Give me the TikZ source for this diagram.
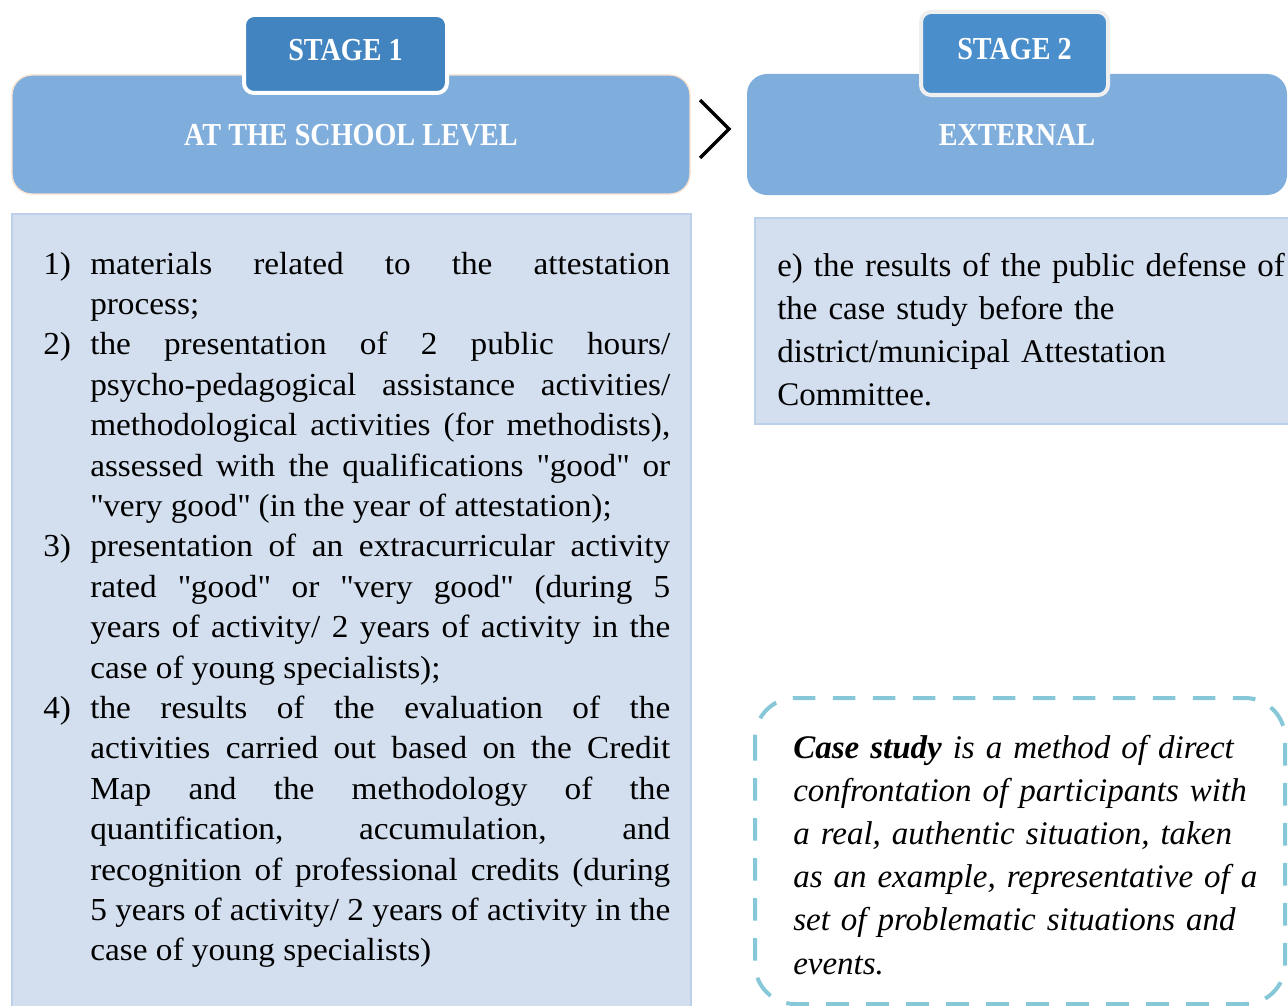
\documentclass[tikz,border=0pt]{standalone}
\usepackage{fontspec}
\usepackage{xcolor}
\usepackage{tikz}
\usetikzlibrary{positioning}
\setmainfont{Liberation Serif}
\newfontfamily\hdrfont[FakeStretch=0.88]{Liberation Serif}
\newfontfamily\listfont[FakeStretch=1.04]{Liberation Serif}
\definecolor{hdrblue}{HTML}{7FAEDD}
\definecolor{tabblue}{HTML}{4184C0}
\definecolor{tabbluelt}{HTML}{4A8ECB}
\definecolor{tabedge}{HTML}{EFEFEF}
\definecolor{peach}{HTML}{FBE2CF}
\definecolor{listfill}{HTML}{D3DFEF}
\definecolor{listedge}{HTML}{BCD0EA}
\definecolor{casecyan}{HTML}{86C8D8}
\tikzset{
  hdrbox/.style={fill=hdrblue, rounded corners=15pt, text=white, inner sep=0pt,
    font=\hdrfont\bfseries\fontsize{24}{28}\selectfont, text depth=0pt},
  tabbox/.style={rounded corners=7.5pt, line width=3pt, text=white, inner sep=0pt,
    font=\hdrfont\bfseries\fontsize{24}{28}\selectfont, text depth=6.75pt},
  listbox/.style={fill=listfill, draw=listedge, line width=1.5pt},
  casebox/.style={draw=casecyan, line width=3pt, rounded corners=30pt,
    dash pattern=on 17pt off 13pt},
  chevron/.style={line width=2.4pt, line join=miter}
}
% numbered item with hanging text
\newcommand{\itemno}[1]{\hangindent=35.25pt\hangafter=1\noindent\makebox[35.25pt][l]{#1}}
\newcommand{\qt}[1]{\textquotedbl#1\textquotedbl}
\begin{document}
\begin{tikzpicture}[x=0.75pt, y=-0.75pt]
  \useasboundingbox (0,0) rectangle (1288,1006);
  % stage headers
  \node[hdrbox, draw=peach, line width=1pt, minimum width=508.5pt, minimum height=89.25pt]
    (school) at (351,134.5) {AT THE SCHOOL LEVEL};
  \node[hdrbox, minimum width=405pt, minimum height=90.75pt]
    (external) at (1017,134.5) {EXTERNAL};
  \node[tabbox, fill=tabblue, draw=white, minimum width=152.25pt, minimum height=58.5pt]
    (stageone) at (345.5,54) {STAGE 1};
  \node[tabbox, fill=tabbluelt, draw=tabedge, minimum width=140.25pt, minimum height=62.25pt]
    (stagetwo) at (1014.5,53.5) {STAGE 2};
  % arrow between the stages
  \draw[chevron] (700,100) -- (729,129) -- (700,158);
  % content boxes
  \path[listbox] (12,214) rectangle (691,1012);
  \path[listbox] (755,218) rectangle (1294,424);
  \path[casebox] (755,698) rectangle (1285,1004);
  % stage 1 items
  \node[anchor=base west, inner sep=0pt, text width=470.25pt, align=justify,
    font=\listfont\fontsize{24}{30.3}\selectfont] (schoollist) at (43,274) {%
    \hyphenpenalty=10000\tolerance=9999\emergencystretch=20pt%
    \itemno{1)}materials related to the attestation\linebreak process;\par
    \itemno{2)}the presentation of 2 public hours/\linebreak
      psycho-pedagogical assistance activities/\linebreak
      methodological activities (for methodists),\linebreak
      assessed with the qualifications \qt{good} or\linebreak
      \qt{very good} (in the year of attestation);\par
    \itemno{3)}presentation of an extracurricular activity\linebreak
      rated \qt{good} or \qt{very good} (during 5\linebreak
      years of activity/ 2 years of activity in the\linebreak
      case of young specialists);\par
    \itemno{4)}the results of the evaluation of the\linebreak
      activities carried out based on the Credit\linebreak
      Map and the methodology of the\linebreak
      quantification, accumulation, and\linebreak
      recognition of professional credits (during\linebreak
      5 years of activity/ 2 years of activity in the\linebreak
      case of young specialists)\par};
  % stage 2 item
  \node[anchor=base west, inner sep=0pt, text width=382pt, align=left,
    font=\fontsize{24.75}{32.25}\selectfont] (externallist) at (777,276) {%
    e) the results of the public defense of\\
    the case study before the\\
    district/municipal Attestation\\
    Committee.};
  % definition note
  \node[anchor=base west, inner sep=0pt, text width=360pt, align=left,
    font=\itshape\fontsize{24.75}{32.4}\selectfont] (casenote) at (793,758) {%
    \textbf{Case study} is a method of direct\\
    confrontation of participants with\\
    a real, authentic situation, taken\\
    as an example, representative of a\\
    set of problematic situations and\\
    events.};
\end{tikzpicture}
\end{document}
